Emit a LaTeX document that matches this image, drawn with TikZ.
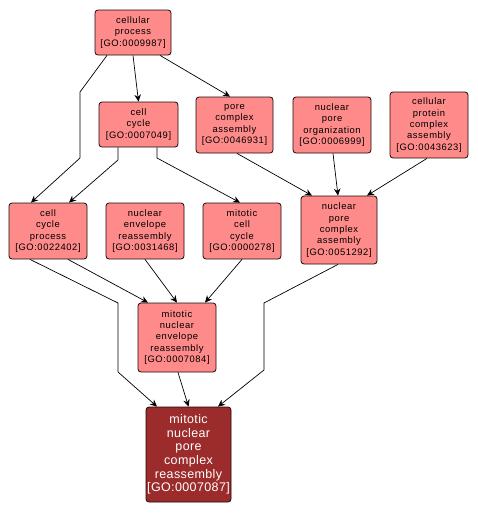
\documentclass[tikz,border=0pt]{standalone}
\usepackage{fontspec}
\setmainfont{Liberation Sans}
\newfontfamily\termfont[LetterSpace=6]{Liberation Sans}
\newfontfamily\focusfont[LetterSpace=3]{Liberation Sans}
\usepackage{xcolor}
\usetikzlibrary{arrows.meta,positioning}
\definecolor{termfill}{RGB}{255,138,138}
\definecolor{focusfill}{RGB}{156,43,43}
\definecolor{termline}{RGB}{30,8,8}

\begin{document}
\begin{tikzpicture}[x=1pt,y=-1pt, >={Stealth[length=7pt,width=6.5pt]},
  term/.style={draw=termline,line width=0.8pt,rounded corners=3pt,fill=termfill,align=center,inner sep=0pt,minimum width=78pt,minimum height=56pt,font=\termfont\fontsize{9.4}{11.4}\selectfont},
  focus/.style={term,fill=focusfill,text=white,minimum width=85pt,minimum height=95pt,font=\focusfont\fontsize{12.5}{13.7}\selectfont},
  edge/.style={->,draw=black,line width=0.7pt}]
\useasboundingbox (0,0) rectangle (478,514);
\node[term,minimum width=76pt,minimum height=45pt] (cp) at (133,32.5) {cellular\\process\\{[GO:0009987]}};
\node[term,minimum width=79pt,minimum height=45pt] (cc) at (138.5,124.5) {cell\\cycle\\{[GO:0007049]}};
\node[term,minimum width=77pt] (pca) at (234.5,125) {pore\\complex\\assembly\\{[GO:0046931]}};
\node[term] (npo) at (332,125) {nuclear\\pore\\organization\\{[GO:0006999]}};
\node[term,minimum height=66pt] (cpca) at (429,125) {cellular\\protein\\complex\\assembly\\{[GO:0043623]}};
\node[term] (ccp) at (48,231) {cell\\cycle\\process\\{[GO:0022402]}};
\node[term] (ner) at (145,231) {nuclear\\envelope\\reassembly\\{[GO:0031468]}};
\node[term] (mcc) at (242,231) {mitotic\\cell\\cycle\\{[GO:0000278]}};
\node[term,minimum width=76pt,minimum height=68pt] (npca) at (339,230) {nuclear\\pore\\complex\\assembly\\{[GO:0051292]}};
\node[term,minimum height=69pt] (mner) at (177,337.5) {mitotic\\nuclear\\envelope\\reassembly\\{[GO:0007084]}};
\node[focus] (mnpcr) at (188.5,454.5) {mitotic\\nuclear\\pore\\complex\\reassembly\\{[GO:0007087]}};
% edges
\draw[edge] ([xshift=-26pt]cp.south) -- (80,92) -- (80,158) -- ([xshift=-17pt]ccp.north);
\draw[edge] (cp.south) -- (cc.north);
\draw[edge] ([xshift=27pt]cp.south) -- ([xshift=-4.5pt]pca.north);
\draw[edge] ([xshift=-20.5pt]cc.south) -- (118,160) -- ([xshift=21pt]ccp.north);
\draw[edge] ([xshift=18.5pt]cc.south) -- (157,158) -- ([xshift=-2pt]mcc.north);
\draw[edge] ([xshift=2.5pt]pca.south) -- ([xshift=-27pt]npca.north);
\draw[edge] ([xshift=1pt]npo.south) -- ([xshift=-1pt]npca.north);
\draw[edge] ([xshift=-2pt]cpca.south) -- ([xshift=28pt]npca.north);
\draw[edge] ([xshift=20pt]ccp.south) -- ([xshift=-29pt]mner.north);
\draw[edge] ([xshift=-18pt]ccp.south) -- (118,303) -- (118,372) -- ([xshift=-31.5pt]mnpcr.north);
\draw[edge] (ner.south) -- (mner.north);
\draw[edge] (mcc.south) -- ([xshift=28pt]mner.north);
\draw[edge] ([xshift=1pt]mner.south) -- (mnpcr.north);
\draw[edge] ([xshift=-1pt]npca.south) -- (264,303) -- (264,370) -- ([xshift=29.5pt]mnpcr.north);
\end{tikzpicture}
\end{document}
